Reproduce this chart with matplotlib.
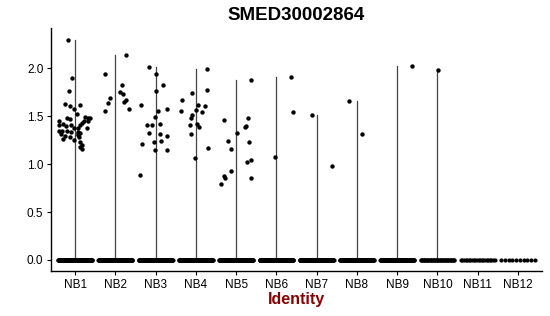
import numpy as np
import matplotlib
matplotlib.use("Agg")
import matplotlib.pyplot as plt

plt.rcParams['font.family'] = ['Liberation Sans', 'DejaVu Sans']

groups = ['NB1', 'NB2', 'NB3', 'NB4', 'NB5', 'NB6', 'NB7', 'NB8', 'NB9', 'NB10', 'NB11', 'NB12']

# number of cells with zero expression per identity (rough estimate from the dense band)
zero_counts = [150, 150, 150, 150, 150, 150, 150, 150, 150, 45, 22, 10]

# expressing cells: (jitter offset, expression value)
nb1 = [(-0.17, 2.30), (-0.08, 1.90), (-0.15, 1.76), (-0.25, 1.63), (-0.12, 1.61),
       (0.11, 1.62), (-0.02, 1.58), (0.04, 1.52), (-0.21, 1.48), (-0.13, 1.47),
       (0.25, 1.49), (0.31, 1.48), (0.37, 1.48), (0.31, 1.45), (0.22, 1.45),
       (-0.39, 1.45), (-0.39, 1.41), (-0.31, 1.42), (-0.22, 1.40), (-0.10, 1.41),
       (0.12, 1.41), (0.17, 1.43), (0.06, 1.38), (-0.04, 1.38), (0.30, 1.38),
       (-0.32, 1.35), (-0.39, 1.35), (-0.21, 1.35), (-0.11, 1.34), (0.07, 1.34),
       (0.12, 1.33), (0.07, 1.31), (0.09, 1.28), (-0.34, 1.31), (-0.24, 1.29),
       (-0.14, 1.28), (-0.29, 1.26), (-0.02, 1.25), (0.13, 1.23), (0.17, 1.20),
       (0.13, 1.18), (0.16, 1.16), (0.06, 1.30)]
nb2 = [(-0.27, 1.94), (0.27, 2.14), (0.17, 1.83), (0.12, 1.75), (0.20, 1.73),
       (-0.14, 1.69), (0.26, 1.67), (0.22, 1.65), (-0.18, 1.64), (0.34, 1.58),
       (-0.27, 1.56)]
nb3 = [(-0.17, 2.01), (0.02, 1.94), (0.19, 1.83), (0.02, 1.76), (-0.37, 1.62),
       (0.27, 1.58), (0.05, 1.55), (-0.01, 1.49), (-0.21, 1.41), (-0.08, 1.41),
       (0.11, 1.42), (-0.16, 1.33), (0.12, 1.31), (0.27, 1.29), (-0.04, 1.23),
       (0.14, 1.24), (-0.35, 1.21), (-0.01, 1.15), (0.27, 1.15), (-0.39, 0.89)]
nb4 = [(0.27, 1.99), (0.28, 1.77), (-0.09, 1.74), (-0.35, 1.67), (0.06, 1.62),
       (0.22, 1.61), (-0.38, 1.55), (0.00, 1.57), (0.15, 1.54), (-0.09, 1.51),
       (-0.12, 1.48), (-0.14, 1.41), (0.02, 1.42), (0.07, 1.39), (-0.11, 1.31),
       (0.31, 1.17), (-0.03, 1.06)]
nb5 = [(0.37, 1.88), (-0.29, 1.46), (0.29, 1.48), (0.21, 1.39), (0.24, 1.40),
       (0.02, 1.33), (-0.21, 1.24), (0.31, 1.23), (-0.14, 1.16), (0.36, 1.04),
       (0.28, 1.02), (-0.12, 0.93), (-0.30, 0.88), (-0.27, 0.86), (0.38, 0.86),
       (-0.37, 0.79)]
nb6 = [(0.36, 1.91), (0.40, 1.54), (-0.04, 1.07)]
nb7 = [(-0.11, 1.51), (0.38, 0.98)]
nb8 = [(-0.19, 1.66), (0.12, 1.31)]
nb9 = [(0.37, 2.02)]
nb10 = [(0.02, 1.98)]
nb11 = []
nb12 = []
expressing = [nb1, nb2, nb3, nb4, nb5, nb6, nb7, nb8, nb9, nb10, nb11, nb12]

fig = plt.figure(figsize=(5.5, 3.16), dpi=100)
ax = fig.add_axes([0.0927, 0.1424, 0.893, 0.7686])

for i, (pts, n0) in enumerate(zip(expressing, zero_counts)):
    pos = i + 1
    # violin is collapsed to a thin line from 0 up to the group maximum
    if pts:
        top = max(v for _, v in pts)
        ax.plot([pos, pos], [0, top], color='#444444', lw=0.9, zorder=1)
    zx = pos + np.linspace(-0.42, 0.42, n0)
    ax.scatter(zx, np.zeros(n0), s=9, color='black', linewidths=0, zorder=2)
    if pts:
        ox = [pos + o for o, _ in pts]
        oy = [v for _, v in pts]
        ax.scatter(ox, oy, s=10, color='black', linewidths=0, zorder=3)

ax.set_xlim(0.4, 12.6)
ax.set_ylim(-0.115, 2.42)
ax.set_xticks(range(1, len(groups) + 1))
ax.set_xticklabels(groups)
ax.set_yticks([0.0, 0.5, 1.0, 1.5, 2.0])
ax.set_yticklabels(['0.0', '0.5', '1.0', '1.5', '2.0'])
ax.tick_params(labelsize=8.5, length=3, width=0.8, colors='black', pad=2.5)
for side in ['top', 'right']:
    ax.spines[side].set_visible(False)
for side in ['left', 'bottom']:
    ax.spines[side].set_linewidth(1.0)

ax.set_xlabel('Identity', fontsize=11.5, fontweight='bold', color='#8B0000', labelpad=1)
ax.set_title('SMED30002864', fontsize=13.5, fontweight='bold', pad=6)

fig.savefig('out.png', dpi=100)
